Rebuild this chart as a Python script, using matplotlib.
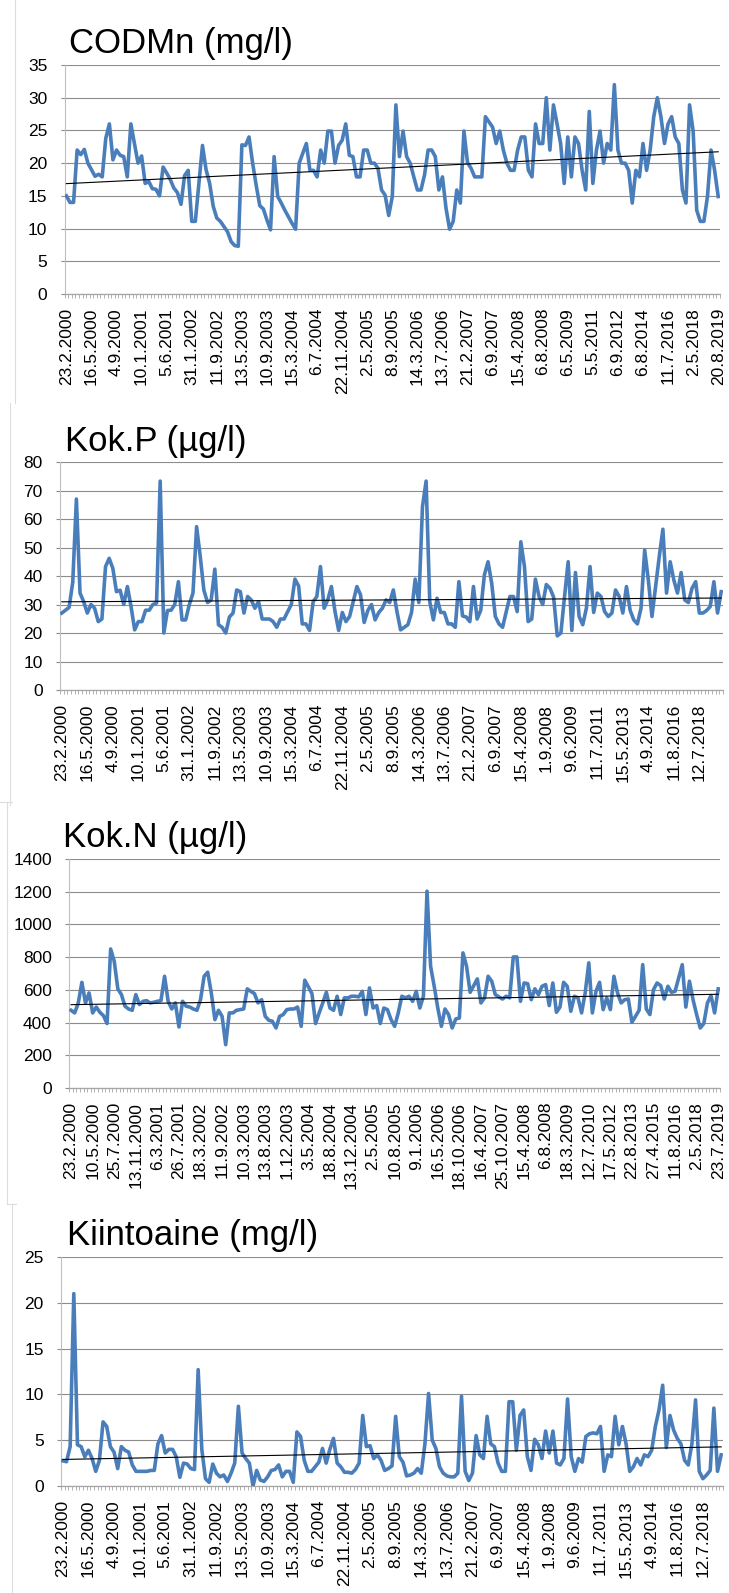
import numpy as np
import matplotlib
matplotlib.use("Agg")
import matplotlib.pyplot as plt
from matplotlib.lines import Line2D

plt.rcParams['font.family'] = ['Liberation Sans', 'DejaVu Sans']

# CODMn (mg/l)
codmn = [15, 14, 14, 22, 21.3, 22.1, 20, 19, 18, 18.3,
         17.9, 23.8, 26, 20.5, 22, 21.2, 21, 17.9, 26, 23,
         20, 21.1, 16.9, 17.2, 16.1, 16, 15, 19.4, 18.5, 17.5,
         16.2, 15.5, 13.7, 18.1, 18.9, 11.1, 11.1, 16.9, 22.7, 19,
         16.9, 13.4, 11.6, 11.1, 10.3, 9.5, 8, 7.4, 7.3, 22.8,
         22.7, 24, 20, 16.6, 13.5, 13, 11.3, 9.8, 21, 14.9,
         13.9, 12.8, 11.8, 10.8, 9.9, 20, 21.5, 23, 18.9, 18.9,
         17.9, 22, 20, 24.9, 24.9, 20, 22.7, 23.5, 26, 21.2,
         21, 17.9, 17.9, 22, 22, 20, 20, 19.2, 15.9, 15.1,
         12, 14.9, 28.9, 21, 24.9, 21, 20, 17.9, 15.9, 15.9,
         18.2, 22, 22, 21, 15.9, 17.9, 13.1, 9.9, 11.1, 15.9,
         13.9, 24.9, 20.1, 19.2, 17.9, 17.9, 17.9, 27.1, 26.3, 25.5,
         23, 24.9, 22, 20, 18.9, 18.9, 22, 24, 24, 18.9,
         17.9, 26, 23, 23, 30, 22, 28.9, 26, 23, 16.9,
         24, 17.9, 24, 23, 18.9, 15.9, 27.9, 16.9, 22, 24.9,
         20, 23, 22, 32, 22, 20, 20, 18.9, 13.9, 18.9,
         17.9, 23, 18.9, 22, 27.1, 30, 27.1, 23, 26, 27.1,
         24, 23, 15.9, 13.9, 28.9, 24.9, 12.8, 11.1, 11.1, 14.9,
         22, 18.9, 14.9]
codmn_labels = ["23.2.2000", "16.5.2000", "4.9.2000", "10.1.2001", "5.6.2001",
                "31.1.2002", "11.9.2002", "13.5.2003", "10.9.2003", "15.3.2004",
                "6.7.2004", "22.11.2004", "2.5.2005", "8.9.2005", "14.3.2006",
                "13.7.2006", "21.2.2007", "6.9.2007", "15.4.2008", "6.8.2008",
                "6.5.2009", "5.5.2011", "6.9.2012", "6.8.2014", "11.7.2016",
                "2.5.2018", "20.8.2019"]

# Kok.P (ug/l)
kokp = [27, 28, 29, 37.8, 67, 34, 31, 27, 30, 28.7,
        24, 24.9, 43.3, 46.2, 42.7, 34.5, 35, 30, 36.3, 29.3,
        21.1, 24, 24, 28, 28, 30, 30.5, 73.3, 20, 27.9,
        28, 30, 38, 24.6, 24.6, 30, 34, 57.3, 46.8, 35,
        30.7, 31.6, 42.4, 22.9, 22, 20, 25.6, 27, 35.1, 34.5,
        27, 32.8, 31.6, 28.7, 31, 24.9, 24.9, 24.9, 24, 22,
        24.9, 24.9, 27.5, 30, 38.9, 36.5, 23.2, 23.2, 20.9, 31,
        32.8, 43.3, 28.7, 31.6, 36.3, 27.5, 20.9, 27.2, 24, 25.8,
        31, 36.3, 33.4, 23.7, 27.9, 30, 24.6, 27.2, 28.7, 31.6,
        30.7, 35.1, 27.5, 21.1, 22, 22.9, 27.2, 38.9, 30.7, 64.3,
        73.3, 31, 24.6, 32.2, 27.2, 27.2, 23.2, 23.2, 22, 38,
        26, 25.6, 24, 36.3, 24.9, 28, 40.4, 45, 37.5, 25.8,
        23.2, 22, 27.5, 32.8, 32.8, 27.5, 52, 43.3, 24, 24.9,
        38.9, 32.8, 30, 37, 35.7, 32.6, 19, 20, 32.8, 45,
        20.9, 41.2, 25.8, 22.9, 28.7, 43.3, 27.2, 34, 32.8, 27.5,
        25.8, 27, 35.1, 32.8, 27, 36.3, 28, 24.6, 23.2, 28.7,
        49.1, 38.6, 25.8, 36.3, 46.8, 56.4, 34, 45, 38.6, 34,
        41.2, 31.6, 30.7, 35.7, 38, 27, 27, 27.9, 29.3, 38,
        27, 34.5]
kokp_labels = ["23.2.2000", "16.5.2000", "4.9.2000", "10.1.2001", "5.6.2001",
               "31.1.2002", "11.9.2002", "13.5.2003", "10.9.2003", "15.3.2004",
               "6.7.2004", "22.11.2004", "2.5.2005", "8.9.2005", "14.3.2006",
               "13.7.2006", "21.2.2007", "6.9.2007", "15.4.2008", "1.9.2008",
               "9.6.2009", "11.7.2011", "15.5.2013", "4.9.2014", "11.8.2016",
               "12.7.2018"]

# Kok.N (ug/l)
kokn = [475, 459, 520, 646, 520, 581, 459, 495, 463, 442,
        394, 850, 775, 606, 571, 500, 483, 475, 571, 510,
        530, 534, 520, 524, 530, 534, 683, 530, 483, 520,
        373, 530, 500, 495, 483, 475, 540, 683, 708, 581,
        418, 475, 438, 265, 459, 459, 475, 479, 483, 606,
        591, 577, 520, 540, 438, 414, 408, 367, 438, 449,
        479, 483, 483, 495, 377, 659, 618, 577, 394, 459,
        520, 585, 489, 475, 561, 449, 551, 551, 561, 561,
        557, 591, 449, 612, 489, 504, 394, 489, 479, 418,
        377, 459, 561, 551, 561, 530, 591, 489, 561, 1203,
        744, 622, 489, 377, 483, 449, 367, 422, 428, 826,
        744, 585, 626, 667, 520, 551, 683, 653, 571, 557,
        544, 561, 551, 801, 801, 530, 642, 638, 540, 606,
        571, 622, 632, 504, 642, 463, 495, 646, 622, 469,
        561, 551, 459, 581, 765, 459, 591, 646, 479, 551,
        479, 683, 581, 520, 540, 544, 402, 438, 475, 754,
        483, 449, 601, 642, 626, 544, 622, 585, 591, 673,
        754, 495, 653, 540, 449, 367, 394, 520, 565, 459,
        606]
kokn_labels = ["23.2.2000", "10.5.2000", "25.7.2000", "13.11.2000", "6.3.2001",
               "26.7.2001", "18.3.2002", "11.9.2002", "10.3.2003", "13.8.2003",
               "1.12.2003", "3.5.2004", "18.8.2004", "13.12.2004", "2.5.2005",
               "10.8.2005", "9.1.2006", "16.5.2006", "18.10.2006", "16.4.2007",
               "25.10.2007", "15.4.2008", "6.8.2008", "18.3.2009", "12.7.2010",
               "17.5.2012", "22.8.2013", "27.4.2015", "11.8.2016", "2.5.2018",
               "23.7.2019"]

# Kiintoaine (mg/l)
kiinto = [2.75, 2.65, 4.3, 21, 4.5, 4.3, 3.2, 3.9, 3.0, 1.6,
          2.8, 7.0, 6.5, 4.3, 3.7, 1.9, 4.3, 3.9, 3.7, 2.3,
          1.6, 1.6, 1.6, 1.6, 1.7, 1.7, 4.6, 5.5, 3.6, 4.0,
          4.0, 3.2, 0.95, 2.5, 2.4, 1.9, 1.8, 12.7, 4.0, 0.8,
          0.4, 2.4, 1.4, 1.0, 1.2, 0.5, 1.4, 2.5, 8.7, 3.6,
          3.0, 2.5, 0, 1.7, 0.65, 0.5, 1.0, 1.7, 1.8, 2.3,
          1.0, 1.6, 1.6, 0.4, 5.9, 5.4, 2.8, 1.6, 1.6, 2.1,
          2.6, 4.1, 2.5, 4.0, 5.2, 2.5, 2.1, 1.5, 1.5, 1.4,
          1.8, 2.5, 7.7, 4.3, 4.4, 3.0, 3.4, 2.8, 1.7, 1.9,
          2.2, 7.6, 3.2, 2.6, 1.1, 1.2, 1.4, 1.9, 1.4, 4.6,
          10.1, 5.0, 4.1, 2.1, 1.4, 1.1, 1.0, 1.0, 1.4, 9.8,
          1.6, 0.6, 1.4, 5.5, 3.4, 3.0, 7.6, 4.6, 4.3, 2.5,
          1.6, 1.6, 9.2, 9.2, 3.9, 7.7, 8.3, 3.2, 1.7, 5.1,
          4.5, 3.0, 6.0, 3.6, 6.0, 2.5, 2.3, 3.0, 9.5, 3.2,
          1.6, 3.0, 2.6, 5.4, 5.7, 5.8, 5.7, 6.5, 1.6, 3.4,
          3.2, 7.6, 4.5, 6.5, 4.6, 1.6, 2.1, 3.0, 2.3, 3.4,
          3.2, 3.9, 6.5, 8.3, 11, 4.2, 7.7, 6.1, 5.2, 4.6,
          2.8, 2.3, 4.6, 9.4, 1.6, 0.8, 1.2, 1.7, 8.5, 1.6,
          3.4]
kiinto_labels = ["23.2.2000", "16.5.2000", "4.9.2000", "10.1.2001", "5.6.2001",
                 "31.1.2002", "11.9.2002", "13.5.2003", "10.9.2003", "15.3.2004",
                 "6.7.2004", "22.11.2004", "2.5.2005", "8.9.2005", "14.3.2006",
                 "13.7.2006", "21.2.2007", "6.9.2007", "15.4.2008", "1.9.2008",
                 "9.6.2009", "11.7.2011", "15.5.2013", "4.9.2014", "11.8.2016",
                 "12.7.2018"]

W, H = 729, 1593
BLUE = '#4A7EBB'
GRID = '#8C8C8C'
AXIS = '#A6A6A6'

fig = plt.figure(figsize=(W / 100, H / 100), dpi=100)


def px_axes(left, top, right, bottom):
    return fig.add_axes([left / W, 1 - bottom / H, (right - left) / W, (bottom - top) / H])


def panel(values, labels, step, ymax, ystep, box, title, title_pos):
    ax = px_axes(*box)
    n = len(values)
    x = np.arange(n)
    ax.plot(x, values, color=BLUE, lw=2.6, solid_joinstyle='round', zorder=3)

    # linear trendline like Excel
    a, b = np.polyfit(x, values, 1)
    ax.plot([0, n - 1], [b, a * (n - 1) + b], color='black', lw=0.8, zorder=4)

    ax.set_xlim(-0.5, n - 0.5)
    ax.set_ylim(0, ymax)
    ax.set_yticks(np.arange(0, ymax + ystep / 2, ystep))
    ax.yaxis.grid(True, color=GRID, lw=0.8)
    ax.set_axisbelow(True)

    ax.set_xticks(np.arange(len(labels)) * step)
    ax.set_xticklabels(labels, rotation=90)
    ax.set_xticks(np.arange(n + 1) - 0.5, minor=True)
    ax.tick_params(axis='x', which='major', length=0, pad=10, labelsize=12.5)
    ax.tick_params(axis='x', which='minor', length=3, width=0.6, color=AXIS, direction='out')
    ax.tick_params(axis='y', length=3, width=0.8, color=GRID, pad=9.5, labelsize=12.5)

    for s in ['top', 'right']:
        ax.spines[s].set_visible(False)
    ax.spines['left'].set_color('#BFBFBF')
    ax.spines['left'].set_linewidth(0.8)
    ax.spines['bottom'].set_color(AXIS)
    ax.spines['bottom'].set_linewidth(0.9)

    fig.text(title_pos[0] / W, 1 - title_pos[1] / H, title, fontsize=25,
             ha='left', va='center')
    return ax


panel(codmn, codmn_labels, 7, 35, 5, (64.6, 65, 720, 294), "CODMn (mg/l)", (69, 43))
panel(kokp, kokp_labels, 7, 80, 10, (60, 462, 723, 690), "Kok.P (µg/l)", (65, 442))
panel(kokn, kokn_labels, 6, 1400, 200, (69.3, 859, 720, 1088), "Kok.N (µg/l)", (63, 837))
panel(kiinto, kiinto_labels, 7, 25, 5, (61, 1257, 723, 1486), "Kiintoaine (mg/l)", (67, 1235))

# faint edges of the original screenshots
edges = [((15, 15), (0, 403)), ((10, 10), (403, 805)), ((7, 7), (802, 1204)),
         ((0, 12), (802, 802)), ((7, 16), (1204, 1204)), ((12, 12), (1204, 1593))]
for xs, ys in edges:
    fig.add_artist(Line2D([v / W for v in xs], [1 - v / H for v in ys],
                          color='#DDDDDD', lw=0.8))

fig.savefig('out.png', dpi=100)
